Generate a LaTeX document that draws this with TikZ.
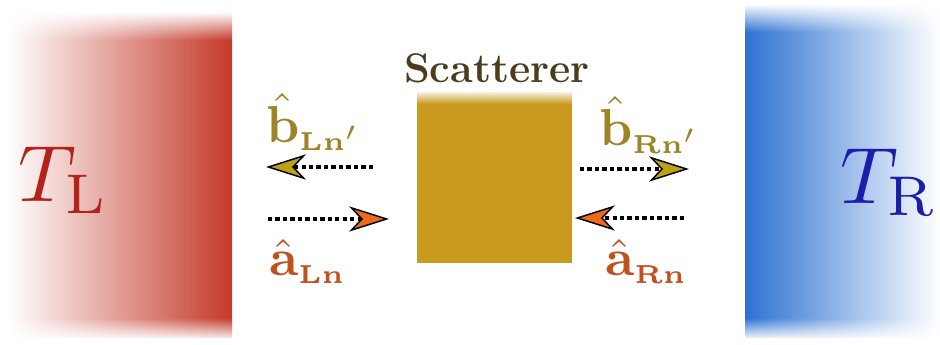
\documentclass[tikz,border=0pt]{standalone}
\usepackage{amsmath}
\usepackage{amssymb}
\usepackage{graphicx}
\usepackage{tikz}
\usetikzlibrary{arrows.meta,fadings}

\definecolor{hotred}{HTML}{C43A2A}
\definecolor{coldblue}{HTML}{2D72D2}
\definecolor{scatgold}{HTML}{C99A1D}
\definecolor{scattext}{HTML}{4A3C1C}
\definecolor{bolive}{HTML}{9E8426}
\definecolor{bfill}{HTML}{BBA213}
\definecolor{arust}{HTML}{C2501F}
\definecolor{afill}{HTML}{EE6A1B}
\definecolor{tlred}{HTML}{B3231B}
\definecolor{trblue}{HTML}{1D1DAA}

\newcommand{\modesym}[1]{\scalebox{3.9}{$#1$}}
\newcommand{\tempsym}[1]{\scalebox{6}{$#1$}}

\tikzset{
  modearrow/.style={line width=3.2pt, dash pattern=on 3.2pt off 2.4pt,
    -{Stealth[length=30pt,width=19pt,inset=9pt,line width=1.1pt,fill=#1]}},
  modelabel/.style={text=#1, inner sep=0.75pt, anchor=base west},
  templabel/.style={text=#1, inner sep=0.75pt},
}

\begin{document}
\begin{tikzpicture}[x=0.75pt,y=0.75pt,yscale=-1,xscale=1]
\useasboundingbox (0,0) rectangle (940,345);

%Shape: Rectangle (left reservoir)
\shade[left color=white, right color=hotred] (8,14) rectangle (232,338);
\fill[white, path fading=south] (0,12) rectangle (240,40);
\fill[white, path fading=north] (0,318) rectangle (240,340);
%Shape: Rectangle (right reservoir)
\shade[left color=coldblue, right color=white] (745,6) rectangle (940,338);
\fill[white, path fading=south] (738,4) rectangle (940,32);
\fill[white, path fading=north] (738,318) rectangle (940,340);
%Shape: Rectangle (scatterer)
\fill[scatgold] (417,92) rectangle (572,263);
\fill[white, path fading=south] (410,90) rectangle (580,104);

% Text Node
\node (scatname) [text=scattext, font=\fontsize{31}{37}\selectfont\bfseries, inner sep=0.75pt] at (497,68) {Scatterer};
% Text Node
\node (tL) [templabel=tlred] at (64,180) {\tempsym{T_{\mathrm{L}}}};
% Text Node
\node (tR) [templabel=trblue] at (889,182) {\tempsym{T_{\mathrm{R}}}};

%Arrows
\coordinate (bl1) at (373,167);
\coordinate (bl2) at (266,167);
\coordinate (al1) at (268,219);
\coordinate (al2) at (389,219);
\coordinate (br1) at (580,169);
\coordinate (br2) at (689,169);
\coordinate (ar1) at (684,218);
\coordinate (ar2) at (575,218);
\draw [modearrow=bfill] (bl1) -- (bl2);
\draw [modearrow=afill] (al1) -- (al2);
\draw [modearrow=bfill] (br1) -- (br2);
\draw [modearrow=afill] (ar1) -- (ar2);

% Text Node
\node (bL) [modelabel=bolive] at (265,143) {\modesym{\hat{\mathbf{b}}_{\scriptscriptstyle\mathbf{Ln'}}}};
% Text Node
\node (aL) [modelabel=arust] at (268,276) {\modesym{\hat{\mathbf{a}}_{\scriptscriptstyle\mathbf{Ln}}}};
% Text Node
\node (bR) [modelabel=bolive] at (598,146) {\modesym{\hat{\mathbf{b}}_{\scriptscriptstyle\mathbf{Rn'}}}};
% Text Node
\node (aR) [modelabel=arust] at (604,276) {\modesym{\hat{\mathbf{a}}_{\scriptscriptstyle\mathbf{Rn}}}};

\end{tikzpicture}
\end{document}
